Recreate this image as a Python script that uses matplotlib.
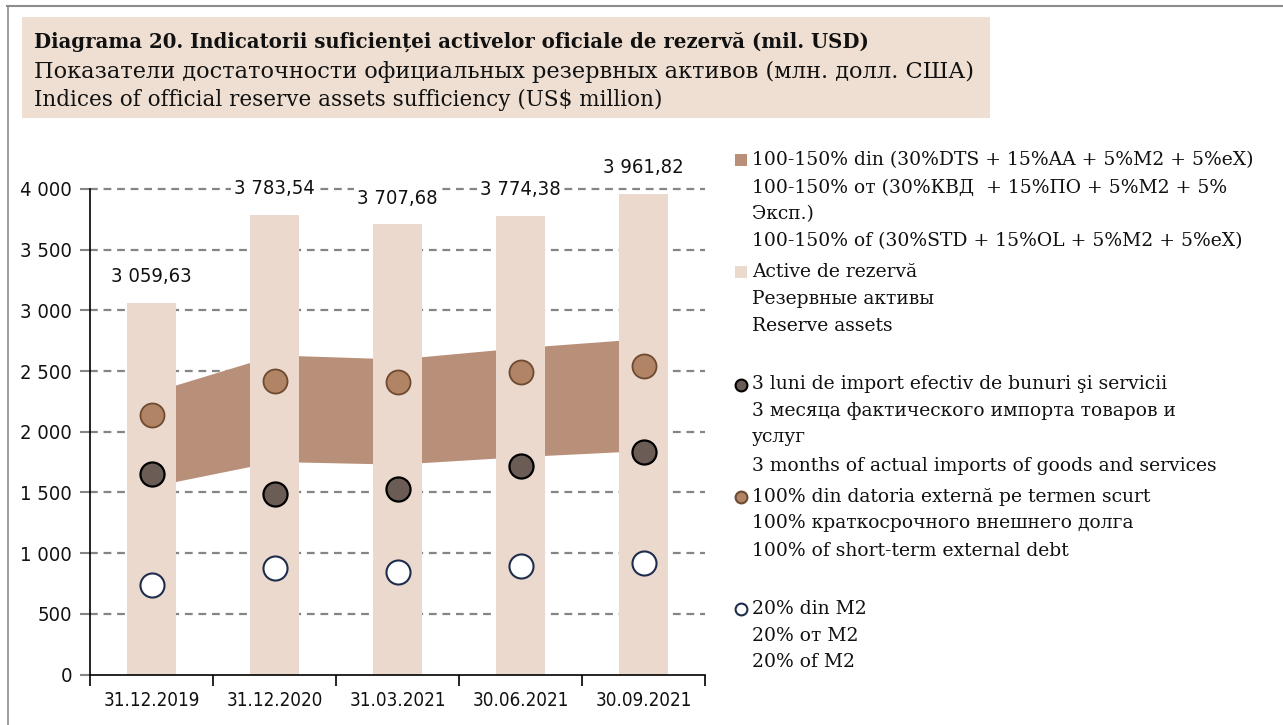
import matplotlib
matplotlib.use("Agg")
import matplotlib.pyplot as plt
from matplotlib import font_manager
from matplotlib.font_manager import FontProperties
from matplotlib.patches import Rectangle
from matplotlib.lines import Line2D

# ---------------- data ----------------
categories = ["31.12.2019", "31.12.2020", "31.03.2021", "30.06.2021", "30.09.2021"]
reserve_assets = [3059.63, 3783.54, 3707.68, 3774.38, 3961.82]
band_lower = [1550, 1755, 1733, 1795, 1845]
band_upper = [2325, 2633, 2600, 2693, 2768]
imports_3m = [1654, 1484, 1525, 1715, 1830]
short_term_debt = [2137, 2422, 2412, 2493, 2543]
m2_20 = [735, 880, 847, 894, 918]
yticks = [0, 500, 1000, 1500, 2000, 2500, 3000, 3500, 4000]

title_lines = [
    "Diagrama 20. Indicatorii suficienței activelor oficiale de rezervă (mil. USD)",
    "Показатели достаточности официальных резервных активов (млн. долл. США)",
    "Indices of official reserve assets sufficiency (US$ million)",
]
legend_band = ["100-150% din (30%DTS + 15%AA + 5%M2 + 5%eX)",
               "100-150% от (30%КВД  + 15%ПО + 5%М2 + 5%",
               "Эксп.)",
               "100-150% of (30%STD + 15%OL + 5%M2 + 5%eX)"]
legend_bar = ["Active de rezervă", "Резервные активы", "Reserve assets"]
legend_imp = ["3 luni de import efectiv de bunuri şi servicii",
              "3 месяца фактического импорта товаров и",
              "услуг",
              "3 months of actual imports of goods and services"]
legend_std = ["100% din datoria externă pe termen scurt",
              "100% краткосрочного внешнего долга",
              "100% of short-term external debt"]
legend_m2 = ["20% din M2", "20% от М2", "20% of M2"]

# ---------------- style ----------------
C_BAR = "#EBD9CE"
C_BAND = "#B8907A"
C_STD = "#B08464"
C_STD_E = "#6E4A31"
C_IMP = "#6B5C55"
C_M2_E = "#1F2D4D"
C_TITLE_BG = "#EEDFD2"

avail = {f.name for f in font_manager.fontManager.ttflist}
if "Liberation Sans Narrow" in avail:
    NARROW = FontProperties(family="Liberation Sans Narrow", size=15)
    NARROW_X = FontProperties(family="Liberation Sans Narrow", size=14.5)
else:
    NARROW = FontProperties(family="DejaVu Sans", stretch="condensed", size=14.5)
    NARROW_X = FontProperties(family="DejaVu Sans", stretch="condensed", size=13.5)
SERIF = "DejaVu Serif"

W, H = 1283, 725
fig = plt.figure(figsize=(W / 100, H / 100), dpi=100)


def fx(x):
    return x / W


def fy(y):
    return 1 - y / H


# frame lines
fig.add_artist(Line2D([fx(7), fx(1282)], [fy(6), fy(6)], color="#8c8c8c", lw=1.5))
fig.add_artist(Line2D([fx(8), fx(8)], [fy(6), fy(725)], color="#8c8c8c", lw=1.2))

# title box
fig.add_artist(Rectangle((fx(22), fy(118)), fx(990) - fx(22), fy(17) - fy(118),
                         transform=fig.transFigure, facecolor=C_TITLE_BG, edgecolor="none"))
fig.text(fx(34), fy(42), title_lines[0], fontsize=14.2, fontweight="bold", family=SERIF,
         va="center", ha="left", color="#111111")
fig.text(fx(34), fy(72), title_lines[1], fontsize=16.2, family=SERIF, va="center", ha="left", color="#111111")
fig.text(fx(34), fy(100), title_lines[2], fontsize=15.5, family=SERIF, va="center", ha="left", color="#111111")

# ---------------- axes ----------------
ax = fig.add_axes([fx(90), fy(674.5), fx(705) - fx(90), fy(189) - fy(674.5)])
x = list(range(len(categories)))

ax.set_ylim(0, 4000)
ax.set_xlim(-0.5, len(categories) - 0.5)

for v in yticks[1:]:
    ax.axhline(v, color="#858585", lw=1.6, ls=(0, (3.5, 2.6)), zorder=0.5, clip_on=False)

ax.fill_between(x, band_lower, band_upper, color=C_BAND, lw=0, zorder=1)
ax.bar(x, reserve_assets, width=0.4, color=C_BAR, zorder=2)

ax.scatter(x, short_term_debt, s=300, color=C_STD, edgecolors=C_STD_E, linewidths=1.3, zorder=4)
ax.scatter(x, imports_3m, s=300, color=C_IMP, edgecolors="black", linewidths=1.6, zorder=4)
ax.scatter(x, m2_20, s=300, color="white", edgecolors=C_M2_E, linewidths=1.5, zorder=4)

for xi, v in zip(x, reserve_assets):
    s = f"{v:,.2f}".replace(",", " ").replace(".", ",")
    ax.annotate(s, (xi, v), xytext=(0, 19), textcoords="offset points", ha="center", va="center",
                fontproperties=NARROW, color="#111111", annotation_clip=False, zorder=5,
                bbox=dict(boxstyle="square,pad=0.15", facecolor="white", edgecolor="none"))

ax.set_yticks(yticks)
ax.set_yticklabels([f"{v:,}".replace(",", " ") for v in yticks], fontproperties=NARROW, color="#111111")
ax.tick_params(axis="y", direction="out", length=7, width=1.5, color="#858585", pad=6)

ax.set_xticks([i - 0.5 for i in range(len(categories) + 1)])
ax.set_xticklabels([])
ax.set_xticks(x, minor=True)
ax.set_xticklabels(categories, minor=True, fontproperties=NARROW_X, color="#111111")
ax.tick_params(axis="x", which="major", direction="out", length=8, width=1.2, color="black")
ax.tick_params(axis="x", which="minor", length=0, pad=12)

for sp in ["top", "right"]:
    ax.spines[sp].set_visible(False)
ax.spines["left"].set_color("black")
ax.spines["bottom"].set_color("black")
ax.spines["left"].set_linewidth(1.2)
ax.spines["bottom"].set_linewidth(1.2)

# ---------------- legend ----------------
LX = 752
LFS = 13.5


def lines_at(lines, ys):
    for t, yy in zip(lines, ys):
        fig.text(fx(LX), fy(yy), t, fontsize=LFS, family=SERIF, va="center", ha="left", color="#111111")


def square(y, color):
    fig.add_artist(Rectangle((fx(735), fy(y + 6)), fx(12), fy(y - 6) - fy(y + 6),
                             transform=fig.transFigure, facecolor=color, edgecolor="none"))


def dot(y, face, edge, lw=1.5):
    fig.add_artist(Line2D([fx(741)], [fy(y)], marker="o", markersize=8.5, markerfacecolor=face,
                          markeredgecolor=edge, markeredgewidth=lw, transform=fig.transFigure))


square(160, C_BAND)
lines_at(legend_band, [160, 188, 214, 241])
square(272, C_BAR)
lines_at(legend_bar, [272, 299, 326])
dot(385, C_IMP, "black")
lines_at(legend_imp, [384, 411, 437, 466])
dot(497, C_STD, C_STD_E)
lines_at(legend_std, [497, 523, 551])
dot(609, "white", C_M2_E)
lines_at(legend_m2, [609, 636, 662])

fig.savefig("out.png", dpi=100)
